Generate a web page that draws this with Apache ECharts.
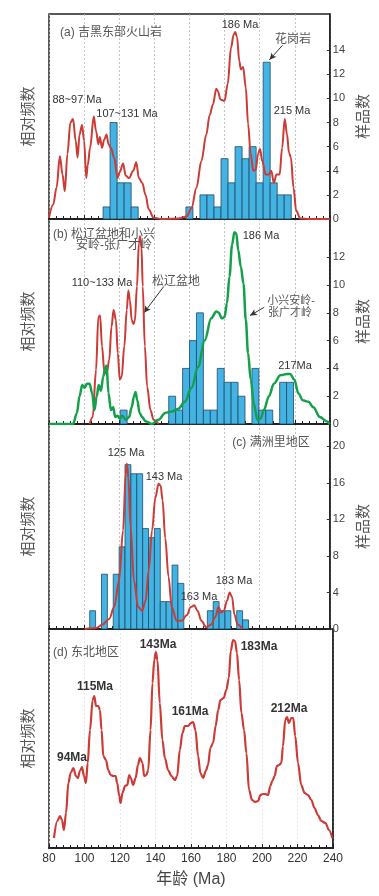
<!DOCTYPE html>
<html>
<head>
<meta charset="utf-8">
<script src="https://cdn.jsdelivr.net/npm/echarts@6/dist/echarts.min.js"></script>
<style>
  html, body { margin: 0; padding: 0; background: #fff; }
  #main { width: 379px; height: 896px; }
</style>
</head>
<body>
<div id="main"></div>
<script>
// ---- data ----
// (a) 吉黑东部火山岩: histogram bins (start age, Ma) and sample counts
var aBinStart = [110.8, 114.8, 118.8, 122.8, 126.8, 158, 166, 170, 174, 178, 182, 186, 190, 194, 198, 202, 206, 210, 214];
var aCount    = [1, 8, 3, 3, 1, 1, 2, 2, 1, 5, 3, 6, 5, 6, 3, 13, 3, 2, 2];
var aBinWidth = 4;
var aCurve = [[80,0.1],[82.4,1.2],[84.3,2.6],[86.2,5.2],[87.7,3.7],[89,2.3],[90.5,5.4],[92.2,8.0],[93.7,8.3],[95.2,6.5],[96.3,5.1],[97.4,7.0],[98.8,7.8],[100,6.5],[101.2,3.4],[102.1,4.5],[103.4,5.9],[105.5,8.5],[106.8,7.3],[108.1,6.2],[109,6.8],[110.2,5.9],[111.5,6.6],[112.8,7.0],[113.9,6.2],[115.3,5.9],[117.1,5.1],[119,3.4],[120.3,3.9],[122.2,4.6],[123.7,3.6],[125.6,3.4],[128,4.0],[129.7,4.7],[131.2,3.4],[133.1,3.0],[135,2.0],[136.8,0.8],[139.6,0.1],[144.3,0],[153.7,0.05],[158.4,0.2],[161.2,0.9],[164,2.6],[166.8,4.8],[169.6,7.0],[171.5,8.6],[173.4,9.5],[175.3,10.8],[176.2,10.6],[177.7,9.9],[180,9.8],[181.8,11.2],[183.7,14.2],[185.2,15.3],[186.1,15.5],[187.1,15.1],[188.4,13.1],[189.3,12.4],[190.6,12.6],[192.1,10.9],[193.4,7.9],[194.9,5.4],[196.4,4.0],[197.8,4.1],[199.1,5.4],[200.2,5.8],[201.5,4.8],[203.4,3.7],[205.3,3.7],[206.6,4.0],[208.1,3.0],[209.6,3.7],[211.4,3.7],[212.8,5.9],[214.3,8.3],[215.6,7.0],[216.7,5.5],[217.8,5.1],[219.3,2.6],[220.8,0.7],[223.1,0.05],[228.7,0],[240,0]];

// (b) 松辽盆地和小兴安岭-张广才岭
var bBinStart = [120.55, 148.2, 152.15, 156.1, 160.05, 164, 167.95, 171.9, 175.85, 179.8, 183.75, 187.7, 195.6, 199.55, 203.5, 211.4, 215.35];
var bCount    = [1, 2, 1, 4, 6, 8, 1, 1, 4, 3, 3, 2, 4, 1, 1, 3, 3];
var bBinWidth = 3.95;
var bRedCurve = [[103.1,0],[104.9,0.5],[106.8,3.9],[108.1,7.7],[109.1,7.8],[110.2,5.6],[111.5,3.8],[112.8,3.6],[114.3,4.6],[115.6,7.0],[116.8,8.2],[118.1,7.5],[119.2,5.1],[120.3,3.2],[121.4,3.4],[122.9,5.6],[124.3,8.2],[125.2,9.6],[126.1,8.9],[127.1,7.5],[128,7.2],[128.9,7.4],[130.1,9.9],[131.2,13.0],[131.9,13.5],[132.7,12.7],[133.4,9.9],[134.6,5.6],[135.9,2.7],[137.8,1.0],[139.6,0.3],[142.4,0]];
var bGreenCurve = [[80,0],[93.7,0],[95.9,0.8],[97.4,2.0],[98.9,2.8],[100.3,2.6],[101.6,2.9],[103.1,2.9],[104.6,2.2],[105.9,1.0],[107.2,2.0],[108.3,2.8],[109.6,2.4],[110.9,3.4],[112.1,4.1],[112.8,4.2],[113.9,2.2],[115.3,1.0],[116.6,1.2],[117.7,0.5],[119,0.6],[120.3,0.4],[121.8,0.6],[123.7,0.3],[125.6,0.5],[127.1,1.2],[128.4,2.0],[129.3,2.3],[130.3,1.7],[131.6,0.8],[133.1,0.5],[135,0.2],[138.7,0],[142.4,0.3],[146.2,0.8],[149.9,0.9],[153.7,1.1],[157.4,1.6],[161.2,2.6],[164.9,4.1],[168.7,6.0],[172.4,7.6],[175.3,8.1],[176.8,8.0],[178.4,7.6],[180,7.7],[181.4,8.7],[182.8,10.6],[184.3,12.9],[185.6,13.8],[186.7,13.7],[187.8,12.5],[189.3,11.3],[190.8,10.1],[192.1,7.5],[193.4,5.1],[194.9,3.2],[196.8,1.4],[198.7,0.3],[200.6,0.4],[202.4,1.0],[205.3,2.0],[208.1,2.9],[211.8,3.5],[215.6,3.6],[217.4,3.6],[219.7,3.2],[222.1,2.2],[224.6,1.7],[227.8,1.6],[230.6,1.2],[234.3,0.5],[238.1,0.2],[240,0]];

// (c) 满洲里地区
var cBinStart = [103.2, 109.9, 116.6, 119.95, 123.3, 126.65, 130, 133.35, 136.7, 140.05, 143.4, 146.75, 150.1, 153.45, 170.2, 173.55, 176.9, 180.25, 186.95, 190.3];
var cCount    = [2, 6, 6, 9, 18, 17, 17, 11, 10, 11, 3, 3, 7, 5, 2, 3, 2, 2, 2, 1];
var cBinWidth = 3.35;
var cCurve = [[100.3,0],[106.8,0.1],[110.6,0.5],[114.3,1.1],[117.1,2.4],[119.9,5.3],[122.2,10.8],[123.7,17.0],[124.4,18.1],[125.2,16.6],[126.5,11.1],[128.4,5.3],[130.8,2.4],[133.1,2.0],[135,3.1],[136.8,6.4],[138.7,10.8],[140.6,14.4],[142.4,15.9],[143.6,15.7],[144.7,14.1],[146.2,10.0],[148.1,5.7],[149.9,2.4],[152.8,0.9],[155.6,0.9],[158.4,1.5],[160.8,2.4],[162.7,2.6],[164.6,2.0],[166.8,0.9],[169.6,0.2],[172.4,0.5],[174.7,1.3],[176.6,2.4],[178.1,1.8],[179.6,2.0],[181.4,3.1],[182.9,4.0],[184.3,3.5],[185.6,1.6],[187.4,0.5],[190.3,0]];

// (d) 东北地区
var dCurve = [[82.8,1.0],[84.7,2.7],[86.2,3.2],[87.3,2.8],[88.4,1.8],[89.6,3.5],[90.9,6.5],[92.2,7.5],[93.7,8.0],[95.2,7.2],[96.3,7.0],[97.4,7.7],[98.6,8.1],[99.7,7.2],[100.8,6.5],[101.8,8.5],[103.1,11.8],[104.6,14.8],[105.5,15.2],[106.5,14.2],[107.8,14.2],[108.7,13.8],[109.6,11.8],[110.6,9.2],[112.1,8.8],[113.4,7.8],[114.7,7.3],[116.2,7.2],[117.5,7.2],[118.4,6.5],[119.6,5.2],[120.3,4.5],[121.4,5.5],[122.8,6.2],[124.1,6.3],[125.2,7.3],[126.1,7.0],[127.4,6.3],[128.8,7.0],[130.1,8.3],[131.2,9.0],[132.7,8.5],[133.6,7.2],[134.9,7.3],[135.9,7.8],[137.2,11.8],[138.3,16.5],[139.3,18.8],[140.2,19.6],[141.1,18.8],[142.4,14.5],[143.9,10.8],[145.3,9.0],[147.1,7.8],[149,7.2],[150.9,6.8],[152.2,7.2],[153.7,9.8],[155.2,11.5],[156.5,12.2],[158.4,12.2],[159.9,12.5],[161.2,12.6],[162.5,11.8],[164,9.2],[165.3,7.5],[166.8,7.0],[168.3,7.7],[169.6,8.3],[170.9,10.0],[172.4,10.5],[173.9,12.2],[175.3,13.8],[176.6,14.8],[178.4,15.0],[179.9,15.8],[181.3,17.0],[182.4,19.7],[183.7,20.8],[184.8,20.7],[185.9,19.5],[187.1,16.8],[188.4,13.5],[189.9,11.8],[191.2,9.5],[192.7,5.8],[194.4,4.8],[196.1,4.6],[197.8,4.7],[199.1,5.3],[200.6,5.4],[201.9,5.4],[203.4,5.3],[204.7,6.2],[205.8,6.7],[207.1,7.2],[208.4,8.2],[209.6,8.3],[210.9,8.5],[211.8,10.2],[213.1,12.8],[214.1,13.1],[215.2,12.5],[216.5,13.0],[217.6,13.0],[218.7,11.2],[220.3,8.5],[222.1,6.3],[224,5.5],[225.9,5.3],[227.8,4.8],[229.6,4.0],[231.5,3.3],[233.4,2.7],[235.8,2.5],[237.7,1.8],[239.6,1.0]];

// axis ticks
var xTicks = [80, 100, 120, 140, 160, 180, 200, 220, 240];
var aYTicks = [0, 2, 4, 6, 8, 10, 12, 14];
var bYTicks = [0, 2, 4, 6, 8, 10, 12];
var cYTicks = [0, 4, 8, 12, 16, 20];

// ---- chart ----
var FONT = 'Arial, "Liberation Sans", "Noto Sans CJK SC", sans-serif';
var RED = '#cc3b36', GREEN = '#14a04a', BLUE = '#43b3e3';
var chart = echarts.init(document.getElementById('main'));

var panelTop = [14, 219, 424, 629];
var panelH = [205, 205, 205, 219];
var yMax = [17, 14.75, 22.45, 21.9];
var rightTicks = [aYTicks, bYTicks, cYTicks, null];

var grids = [], xAxes = [], yAxes = [];
for (var i = 0; i < 4; i++) {
    grids.push({
        left: 49, width: 284, top: panelTop[i], height: panelH[i],
        show: true, borderColor: '#222', borderWidth: 1.5, backgroundColor: 'transparent'
    });
    xAxes.push({
        type: 'value', gridIndex: i, min: 80, max: 240, interval: 20,
        axisLine: {show: true, onZero: false, lineStyle: {color: '#222', width: 2}},
        axisTick: {show: true, inside: true, length: 4, lineStyle: {color: '#222'}},
        minorTick: {show: true, splitNumber: 5, length: 3, lineStyle: {color: '#222'}},
        axisLabel: {show: i === 3, margin: 5, color: '#333', fontSize: 12, fontFamily: FONT,
            customValues: xTicks},
        splitLine: {show: true, lineStyle: {color: i === 3 ? '#e2e2e2' : '#b5b5b5', type: [2, 2], width: 0.8}},
        name: i === 3 ? '年龄 (Ma)' : '',
        nameLocation: 'middle', nameGap: 24,
        nameTextStyle: {color: '#444', fontSize: 16, fontFamily: FONT}
    });
    // left axis: relative frequency (curves)
    yAxes.push({
        type: 'value', gridIndex: i, position: 'left', min: 0, max: yMax[i],
        axisLine: {show: false}, axisTick: {show: false}, axisLabel: {show: false},
        splitLine: {show: false},
        name: '相对频数', nameLocation: 'middle', nameRotate: 90, nameGap: 13,
        nameTextStyle: {color: '#555', fontSize: 15, fontFamily: FONT}
    });
    // right axis: sample count (histogram)
    var rt = rightTicks[i];
    yAxes.push({
        type: 'value', gridIndex: i, position: 'right', min: 0, max: yMax[i],
        axisLine: {show: true, lineStyle: {color: '#222', width: 1.5}},
        axisTick: rt ? {show: true, inside: true, length: 3, customValues: rt, lineStyle: {color: '#333'}} : {show: false},
        axisLabel: rt ? {show: true, margin: 3, color: '#444', fontSize: 11, fontFamily: FONT, customValues: rt} : {show: false},
        splitLine: {show: false},
        name: rt ? '样品数' : '', nameLocation: 'middle', nameRotate: 90, nameGap: 21,
        nameTextStyle: {color: '#555', fontSize: 15, fontFamily: FONT}
    });
}

function histSeries(gi, starts, counts, width) {
    var data = [];
    for (var k = 0; k < starts.length; k++) {
        data.push([starts[k], starts[k] + width, counts[k]]);
    }
    return {
        type: 'custom', xAxisIndex: gi, yAxisIndex: gi * 2 + 1, z: 2,
        encode: {x: [0, 1], y: 2},
        renderItem: function (params, api) {
            var p0 = api.coord([api.value(0), api.value(2)]);
            var p1 = api.coord([api.value(1), 0]);
            return {
                type: 'rect',
                shape: {x: p0[0], y: p0[1], width: p1[0] - p0[0], height: p1[1] - p0[1]},
                style: {fill: BLUE, stroke: '#1f4a66', lineWidth: 0.8}
            };
        },
        data: data
    };
}

function curveSeries(gi, data, color, width, extra) {
    var s = {
        type: 'line', xAxisIndex: gi, yAxisIndex: gi * 2, z: 5,
        showSymbol: false, smooth: 0.35, smoothMonotone: 'x',
        lineStyle: {color: color, width: width},
        data: data
    };
    if (extra) s.markLine = extra;
    return s;
}

function arrow(x1, y1, x2, y2) {
    return {
        silent: true, symbol: ['none', 'arrow'], symbolSize: [5, 7],
        lineStyle: {color: '#333', width: 1, type: 'solid'},
        label: {show: false},
        data: [[{coord: [x1, y1]}, {coord: [x2, y2]}]]
    };
}

function txt(t, x, y, opts) {
    opts = opts || {};
    return {
        type: 'text', x: x, y: y, z: 100,
        style: {
            text: t, fill: opts.color || '#333',
            font: (opts.bold ? 'bold ' : '') + (opts.size || 11) + 'px ' + FONT,
            align: opts.align || 'center', verticalAlign: 'middle'
        }
    };
}

var option = {
    animation: false,
    backgroundColor: '#fff',
    grid: grids,
    xAxis: xAxes,
    yAxis: yAxes,
    series: [
        histSeries(0, aBinStart, aCount, aBinWidth),
        curveSeries(0, aCurve, RED, 2, arrow(213, 14.4, 205.6, 13.2)),
        histSeries(1, bBinStart, bCount, bBinWidth),
        curveSeries(1, bRedCurve, RED, 2, arrow(145.4, 9.9, 134.1, 8.0)),
        curveSeries(1, bGreenCurve, GREEN, 2.5, arrow(202.6, 8.4, 194.5, 7.8)),
        histSeries(2, cBinStart, cCount, cBinWidth),
        curveSeries(2, cCurve, RED, 2),
        curveSeries(3, dCurve, RED, 2.2)
    ],
    graphic: [
        // (a)
        txt('(a) 吉黑东部火山岩', 60, 33, {align: 'left', size: 12, color: '#555'}),
        txt('186 Ma', 240, 25),
        txt('花岗岩', 293, 40, {size: 12, color: '#555'}),
        txt('88~97 Ma', 77, 100),
        txt('107~131 Ma', 127, 114),
        txt('215 Ma', 292, 111),
        // (b)
        txt('(b) 松辽盆地和小兴', 53, 235, {align: 'left', size: 12, color: '#555'}),
        txt('安岭-张广才岭', 114, 246, {size: 12, color: '#555'}),
        txt('186 Ma', 261, 236),
        txt('110~133 Ma', 102, 283),
        txt('松辽盆地', 176, 282, {size: 12, color: '#555'}),
        txt('小兴安岭-', 291, 301, {size: 11, color: '#555'}),
        txt('张广才岭', 290, 313, {size: 11, color: '#555'}),
        txt('217Ma', 295, 366),
        // (c)
        txt('(c) 满洲里地区', 271, 443, {size: 12, color: '#555'}),
        txt('125 Ma', 126, 453),
        txt('143 Ma', 164, 477),
        txt('163 Ma', 199, 597),
        txt('183 Ma', 234, 581),
        // (d)
        txt('(d) 东北地区', 53, 653, {align: 'left', size: 12, color: '#555'}),
        txt('143Ma', 158, 645, {bold: true, size: 12}),
        txt('183Ma', 259, 647, {bold: true, size: 12}),
        txt('115Ma', 95, 687, {bold: true, size: 12}),
        txt('161Ma', 190, 712, {bold: true, size: 12}),
        txt('212Ma', 289, 709, {bold: true, size: 12}),
        txt('94Ma', 72, 758, {bold: true, size: 12})
    ]
};
chart.setOption(option);

window.addEventListener('resize', function () {
    chart.resize();
});
</script>
</body>
</html>
